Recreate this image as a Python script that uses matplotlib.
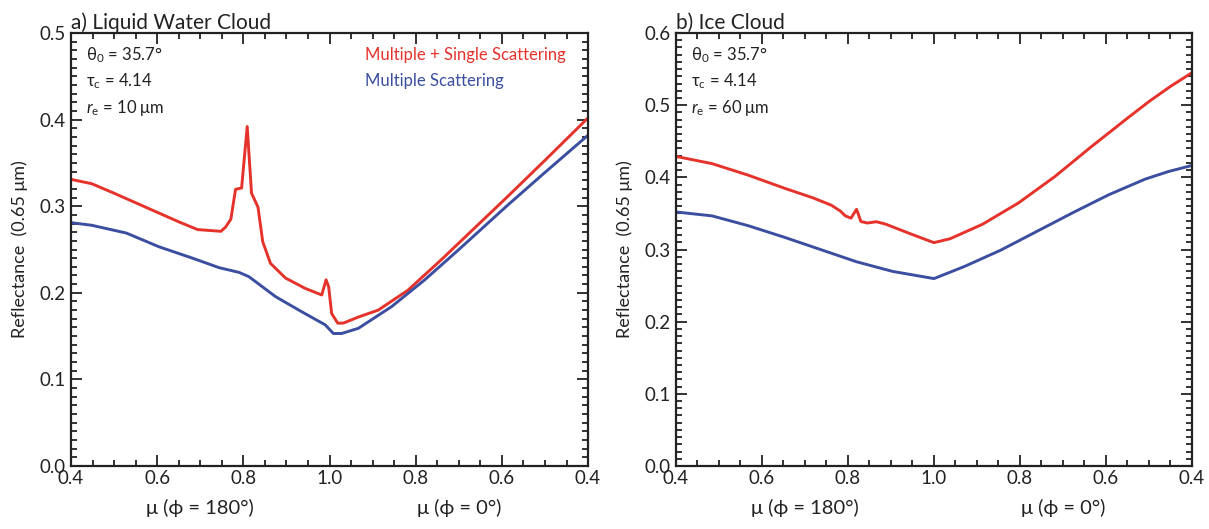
import matplotlib
matplotlib.use("Agg")
import matplotlib.pyplot as plt
import numpy as np
from matplotlib.ticker import MultipleLocator
from matplotlib.transforms import blended_transform_factory

plt.rcParams['font.family'] = ['Lato', 'DejaVu Sans']
plt.rcParams['mathtext.fontset'] = 'custom'
plt.rcParams['mathtext.rm'] = 'Lato'
plt.rcParams['mathtext.it'] = 'Lato:italic'

# ---------------- data ----------------
# Liquid water cloud, multiple + single scattering
water_ss_mu180 = [0.40, 0.448, 0.50, 0.55, 0.60, 0.65, 0.694, 0.748, 0.759, 0.771, 0.782, 0.796,
                  0.809, 0.819, 0.834, 0.845, 0.863, 0.898, 0.944, 0.982, 0.992, 0.998]
water_ss_val180 = [0.331, 0.326, 0.315, 0.304, 0.293, 0.282, 0.273, 0.271, 0.276, 0.285, 0.3195, 0.321,
                   0.392, 0.315, 0.299, 0.259, 0.234, 0.217, 0.205, 0.1975, 0.215, 0.207]
water_ss_mu0 = [0.995, 0.981, 0.968, 0.933, 0.887, 0.818, 0.741, 0.664, 0.587, 0.50, 0.40]
water_ss_val0 = [0.176, 0.165, 0.165, 0.172, 0.180, 0.203, 0.238, 0.2745, 0.311, 0.353, 0.402]
# Liquid water cloud, multiple scattering
water_ms_mu180 = [0.40, 0.448, 0.5285, 0.605, 0.682, 0.744, 0.79, 0.813, 0.875, 0.936, 0.99]
water_ms_val180 = [0.281, 0.278, 0.269, 0.253, 0.240, 0.229, 0.2236, 0.2186, 0.1955, 0.178, 0.163]
water_ms_mu0 = [0.991, 0.972, 0.933, 0.856, 0.779, 0.702, 0.587, 0.50, 0.40]
water_ms_val0 = [0.153, 0.153, 0.159, 0.184, 0.215, 0.249, 0.301, 0.339, 0.382]

# Ice cloud, multiple + single scattering
ice_ss_mu180 = [0.40, 0.484, 0.568, 0.652, 0.719, 0.761, 0.782, 0.794, 0.807, 0.820, 0.830,
                0.845, 0.866, 0.887, 0.9455, 1.0]
ice_ss_val180 = [0.429, 0.419, 0.403, 0.385, 0.3715, 0.3615, 0.3534, 0.3466, 0.3434, 0.3557, 0.3389,
                 0.3367, 0.3385, 0.3353, 0.3217, 0.3095]
ice_ss_mu0 = [0.962, 0.887, 0.803, 0.719, 0.635, 0.55, 0.50, 0.45, 0.40]
ice_ss_val0 = [0.315, 0.335, 0.3647, 0.401, 0.442, 0.482, 0.505, 0.526, 0.545]
# Ice cloud, multiple scattering
ice_ms_mu180 = [0.40, 0.484, 0.568, 0.652, 0.736, 0.820, 0.9035, 1.0]
ice_ms_val180 = [0.352, 0.3466, 0.333, 0.317, 0.300, 0.283, 0.2697, 0.2597]
ice_ms_mu0 = [0.929, 0.845, 0.761, 0.677, 0.593, 0.509, 0.455, 0.40]
ice_ms_val0 = [0.2765, 0.299, 0.325, 0.351, 0.376, 0.3975, 0.408, 0.4165]

xtick_mu = [0.4, 0.6, 0.8, 1.0, 0.8, 0.6, 0.4]
xtick_side = [180, 180, 180, 180, 0, 0, 0]

RED = '#e5322b'
BLUE = '#3b4ea0'
INK = '#222222'


def pos(mu, side):
    mu = np.asarray(mu, dtype=float)
    return (mu - 1.0) if side == 180 else (1.0 - mu)


def curve(mu180, v180, mu0, v0):
    x = np.concatenate([pos(mu180, 180), pos(mu0, 0)])
    y = np.concatenate([v180, v0])
    return x, y


fig = plt.figure(figsize=(12.09, 5.29), dpi=100)
axA = fig.add_axes([0.0587, 0.1191, 0.4277, 0.8185])
axB = fig.add_axes([0.5591, 0.1191, 0.4268, 0.8185])

panels = [
    (axA, 'a) Liquid Water Cloud', 0.5, 0.1,
     curve(water_ss_mu180, water_ss_val180, water_ss_mu0, water_ss_val0),
     curve(water_ms_mu180, water_ms_val180, water_ms_mu0, water_ms_val0), '10', True),
    (axB, 'b) Ice Cloud', 0.6, 0.1,
     curve(ice_ss_mu180, ice_ss_val180, ice_ss_mu0, ice_ss_val0),
     curve(ice_ms_mu180, ice_ms_val180, ice_ms_mu0, ice_ms_val0), '60', False),
]

for ax, title, ymax, ystep, ss, ms, re, legend in panels:
    ax.plot(ss[0], ss[1], color=RED, lw=2.1, solid_joinstyle='round')
    ax.plot(ms[0], ms[1], color=BLUE, lw=2.1, solid_joinstyle='round')
    ax.set_xlim(-0.6, 0.6)
    ax.set_ylim(0, ymax)
    xt = [pos([m], s)[0] for m, s in zip(xtick_mu, xtick_side)]
    ax.set_xticks(xt)
    ax.set_xticklabels([f'{m:.1f}' for m in xtick_mu])
    ax.xaxis.set_minor_locator(MultipleLocator(0.05))
    yt = np.arange(0, ymax + 1e-9, ystep)
    ax.set_yticks(yt)
    ax.set_yticklabels([f'{v:.1f}' for v in yt])
    ax.yaxis.set_minor_locator(MultipleLocator(0.01))
    ax.tick_params(which='both', direction='in', top=True, right=True, width=1.3,
                   colors=INK, labelsize=13.5, pad=4)
    ax.tick_params(which='major', length=8)
    ax.tick_params(which='minor', length=4)
    ax.tick_params(axis='x', which='major', pad=3)
    for sp in ax.spines.values():
        sp.set_linewidth(1.6)
        sp.set_color(INK)
    ax.set_title(title, loc='left', fontsize=15, pad=3, color=INK)
    ax.set_ylabel('Reflectance  (0.65 μm)', fontsize=13, color=INK, labelpad=8)
    tr = blended_transform_factory(ax.transData, ax.transAxes)
    ax.text(-0.3, -0.097, 'μ (ϕ = 180°)', transform=tr, ha='center', va='center',
            fontsize=14.5, color=INK)
    ax.text(0.3, -0.097, 'μ (ϕ = 0°)', transform=tr, ha='center', va='center',
            fontsize=14.5, color=INK)
    ax.text(0.03, 0.949, r'θ$_0$ = 35.7°', transform=ax.transAxes, ha='left', va='center',
            fontsize=12, color=INK)
    ax.text(0.03, 0.889, r'τ$_\mathrm{c}$ = 4.14', transform=ax.transAxes, ha='left', va='center',
            fontsize=12, color=INK)
    ax.text(0.03, 0.826, r'$r_\mathrm{e}$ = ' + re + ' μm', transform=ax.transAxes, ha='left',
            va='center', fontsize=12, color=INK)
    if legend:
        ax.text(0.569, 0.949, 'Multiple + Single Scattering', transform=ax.transAxes,
                ha='left', va='center', fontsize=12, color=RED)
        ax.text(0.569, 0.889, 'Multiple Scattering', transform=ax.transAxes,
                ha='left', va='center', fontsize=12, color=BLUE)

fig.savefig('out.png', dpi=100)
